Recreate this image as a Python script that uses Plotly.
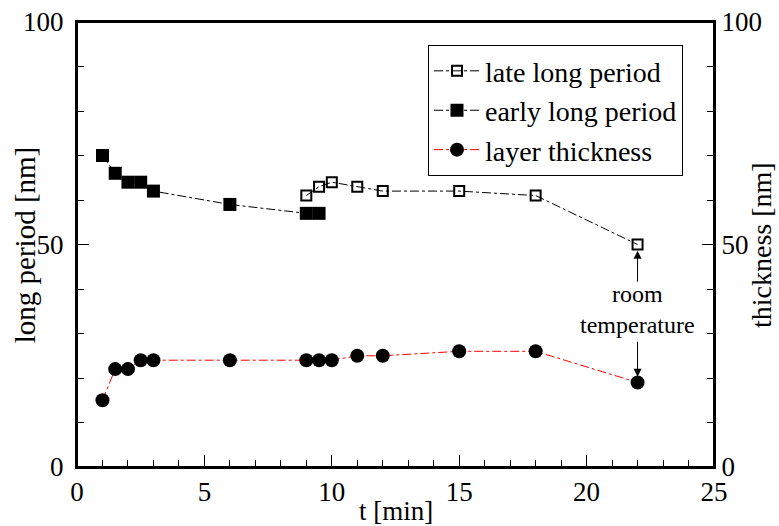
import plotly.graph_objects as go

# Data
early_t = [1, 1.5, 2, 2.5, 3, 6, 9, 9.5]
early_lp = [70, 66, 64, 64, 62, 59, 57, 57]

late_t = [9, 9.5, 10, 11, 12, 15, 18, 22]
late_lp = [61, 63, 64, 63, 62, 62, 61, 50]

layer_t = [1, 1.5, 2, 2.5, 3, 6, 9, 9.5, 10, 11, 12, 15, 18, 22]
layer_th = [15, 22, 22, 24, 24, 24, 24, 24, 24, 25, 25, 26, 26, 19]

FONT = "'Liberation Serif', 'Times New Roman', serif"
FS = 27

fig = go.Figure()

fig.add_trace(go.Scatter(
    x=late_t, y=late_lp, name="late long period", mode="lines+markers",
    line=dict(color="black", width=1, dash="dashdot"),
    marker=dict(symbol="square-open", size=10, color="black", line=dict(width=2, color="black")),
))
fig.add_trace(go.Scatter(
    x=early_t, y=early_lp, name="early long period", mode="lines+markers",
    line=dict(color="black", width=1, dash="dashdot"),
    marker=dict(symbol="square", size=13, color="black"),
))
fig.add_trace(go.Scatter(
    x=layer_t, y=layer_th, name="layer thickness", mode="lines+markers",
    line=dict(color="red", width=1, dash="dashdot"),
    marker=dict(symbol="circle", size=14, color="black"),
    yaxis="y2",
))

# annotation text and arrows
fig.add_annotation(x=22, y=35.3, xref="x", yref="y", text="room<br>temperature",
                   showarrow=False, font=dict(family=FONT, size=24, color="black"))
fig.add_annotation(x=22, y=48.6, ax=22, ay=41.3, xref="x", yref="y", axref="x", ayref="y",
                   text="", showarrow=True, arrowhead=2, arrowsize=1.6, arrowwidth=1, arrowcolor="black")
fig.add_annotation(x=22, y=20.3, ax=22, ay=28.5, xref="x", yref="y", axref="x", ayref="y",
                   text="", showarrow=True, arrowhead=2, arrowsize=1.6, arrowwidth=1, arrowcolor="black")

# axis titles
fig.add_annotation(x=-0.082, y=0.5, xref="paper", yref="paper", text="long period [nm]",
                   textangle=-90, showarrow=False, xanchor="center", yanchor="middle",
                   font=dict(family=FONT, size=29, color="black"))
fig.add_annotation(x=1.0745, y=0.5, xref="paper", yref="paper", text="thickness [nm]",
                   textangle=-90, showarrow=False, xanchor="center", yanchor="middle",
                   font=dict(family=FONT, size=28, color="black"))
fig.add_annotation(x=0.5, y=-0.099, xref="paper", yref="paper", text="t [min]",
                   showarrow=False, xanchor="center", yanchor="middle",
                   font=dict(family=FONT, size=FS, color="black"))

# frame
fig.add_shape(type="rect", xref="paper", yref="paper", x0=0, x1=1, y0=0, y1=1,
              line=dict(color="black", width=2), layer="above")

axis_common = dict(showgrid=False, zeroline=False, showline=True, linecolor="black", linewidth=2,
                   ticks="inside", tickcolor="black", tickwidth=1, ticklen=12, automargin=False,
                   ticklabeloverflow="allow",
                   tickfont=dict(family=FONT, size=FS, color="black"))

fig.update_layout(
    width=779, height=526,
    margin=dict(l=77, r=65, t=22, b=59),
    paper_bgcolor="white", plot_bgcolor="white",
    font=dict(family=FONT, color="black"),
    showlegend=True,
    legend=dict(x=0.551, y=0.948, xanchor="left", yanchor="top",
                bordercolor="black", borderwidth=1, bgcolor="white",
                font=dict(family=FONT, size=28, color="black"),
                tracegroupgap=0, itemwidth=46),
    xaxis=dict(range=[0, 25], dtick=5, mirror=True,
               minor=dict(dtick=1, ticks="inside", ticklen=7, tickcolor="black"),
               **axis_common),
    yaxis=dict(range=[0, 100], dtick=50, mirror=True, ticklabelstandoff=6,
               minor=dict(dtick=10, ticks="inside", ticklen=7, tickcolor="black"),
               **axis_common),
    yaxis2=dict(range=[0, 100], dtick=50, overlaying="y", side="right",
                minor=dict(dtick=10, ticks="inside", ticklen=7, tickcolor="black"),
                **axis_common),
)

fig.write_html("out.html", post_script="document.body.style.margin='0';",
               config={"displayModeBar": False})
